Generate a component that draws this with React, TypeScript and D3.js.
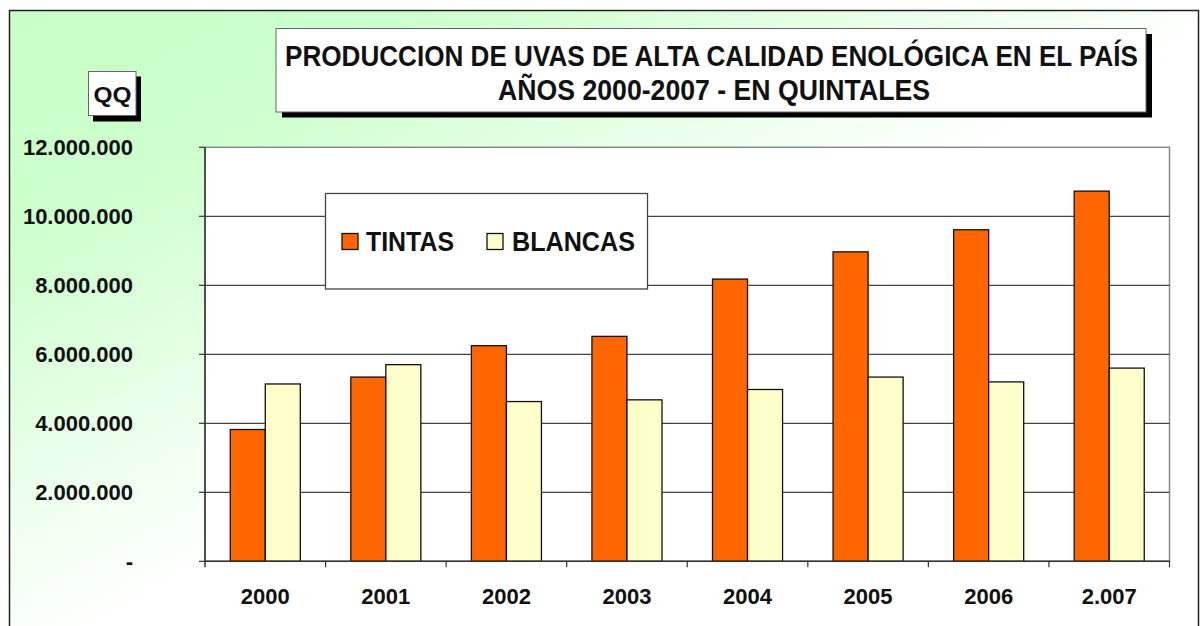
import React from "react";
import * as d3 from "d3";

const years = ["2000", "2001", "2002", "2003", "2004", "2005", "2006", "2.007"];
const seriesNames = ["TINTAS", "BLANCAS"];
const tintas = [3820000, 5340000, 6250000, 6520000, 8180000, 8970000, 9610000, 10730000];
const blancas = [5140000, 5700000, 4630000, 4680000, 4980000, 5340000, 5200000, 5600000];
const yTicks = [0, 2000000, 4000000, 6000000, 8000000, 10000000, 12000000];
const titleLines = ["PRODUCCION DE UVAS DE ALTA CALIDAD ENOLÓGICA EN EL PAÍS", "AÑOS 2000-2007 - EN QUINTALES"];
const colors = ["#FF6600", "#FFFFCC"];

const W = 1204;
const H = 626;
const plot = { left: 205, right: 1169.5, top: 147.3, bottom: 561.3 };
const FONT = "'Liberation Sans', Arial, sans-serif";

function fmt(v: number): string {
  if (v === 0) return "-";
  return d3.format(",")(v).replace(/,/g, ".");
}

export default function App() {
  const y = d3.scaleLinear().domain([0, 12000000]).range([plot.bottom, plot.top]);
  const x = d3
    .scaleBand<string>()
    .domain(years)
    .range([plot.left, plot.right])
    .paddingInner(0.419)
    .paddingOuter(0.2095);
  const x1 = d3.scaleBand<string>().domain(seriesNames).range([0, x.bandwidth()]);
  const step = x.step();
  const data = [tintas, blancas];

  return (
    <svg width={W} height={H} style={{ position: "absolute", left: 0, top: 0 }}>
      <defs>
        <linearGradient id="bg" x1="0" y1="0" x2="1" y2="1">
          <stop offset="0" stopColor="#C8FFC8" />
          <stop offset="0.17" stopColor="#CCFFCC" />
          <stop offset="0.52" stopColor="#FFFFFF" />
          <stop offset="1" stopColor="#FFFFFF" />
        </linearGradient>
      </defs>
      <rect x={0} y={0} width={W} height={H} fill="#fff" />
      <rect x={9.5} y={10.5} width={1189} height={640} fill="url(#bg)" stroke="#222" strokeWidth={1.5} />

      {/* Plot area */}
      <rect
        x={plot.left}
        y={plot.top}
        width={plot.right - plot.left}
        height={plot.bottom - plot.top}
        fill="#fff"
        stroke="#888"
        strokeWidth={1.5}
      />
      {/* gridlines */}
      {yTicks
        .filter((t) => t > 0 && t < 12000000)
        .map((t) => (
          <line key={"g" + t} x1={plot.left} x2={plot.right} y1={y(t)} y2={y(t)} stroke="#444" strokeWidth={1.2} />
        ))}

      {/* bars */}
      {years.map((yr, i) => (
        <g key={yr}>
          {seriesNames.map((s, j) => {
            const v = data[j][i];
            const bx = (x(yr) as number) + (x1(s) as number);
            return (
              <rect
                key={s}
                x={bx}
                y={y(v)}
                width={x1.bandwidth()}
                height={y(0) - y(v)}
                fill={colors[j]}
                stroke="#111"
                strokeWidth={1.3}
              />
            );
          })}
        </g>
      ))}

      {/* y axis */}
      <line x1={plot.left} x2={plot.left} y1={plot.top} y2={plot.bottom + 6} stroke="#333" strokeWidth={1.5} />
      {yTicks.map((t) => (
        <g key={"t" + t}>
          <line x1={plot.left - 6} x2={plot.left} y1={y(t)} y2={y(t)} stroke="#333" strokeWidth={1.2} />
          <text
            x={133}
            y={y(t) + 1.5}
            textAnchor="end"
            dominantBaseline="middle"
            fontFamily={FONT}
            fontWeight="bold"
            fontSize={22}
            fill="#111"
          >
            {fmt(t)}
          </text>
        </g>
      ))}

      {/* x axis */}
      <line x1={plot.left} x2={plot.right} y1={plot.bottom} y2={plot.bottom} stroke="#333" strokeWidth={1.5} />
      {years.map((yr, i) => (
        <line
          key={"xt" + yr}
          x1={plot.left + (i + 1) * step}
          x2={plot.left + (i + 1) * step}
          y1={plot.bottom}
          y2={plot.bottom + 6}
          stroke="#333"
          strokeWidth={1.2}
        />
      ))}
      {years.map((yr) => (
        <text
          key={"xl" + yr}
          x={(x(yr) as number) + x.bandwidth() / 2}
          y={603.5}
          textAnchor="middle"
          fontFamily={FONT}
          fontWeight="bold"
          fontSize={22}
          fill="#111"
        >
          {yr}
        </text>
      ))}

      {/* Legend */}
      <rect x={325.5} y={193.5} width={322} height={95.5} fill="#fff" stroke="#444" strokeWidth={1.3} />
      {seriesNames.map((s, j) => {
        const sx = j === 0 ? 342 : 487;
        const tx = j === 0 ? 366 : 512;
        const tl = j === 0 ? 88 : 123;
        return (
          <g key={"lg" + s}>
            <rect x={sx} y={233.5} width={16} height={16} fill={colors[j]} stroke="#111" strokeWidth={1.3} />
            <text
              x={tx}
              y={251}
              fontFamily={FONT}
              fontWeight="bold"
              fontSize={27.5}
              fill="#111"
              textLength={tl}
              lengthAdjust="spacingAndGlyphs"
            >
              {s}
            </text>
          </g>
        );
      })}

      {/* QQ box */}
      <rect x={93} y={76.5} width={48} height={45} fill="#000" />
      <rect x={88.5} y={71.5} width={47.5} height={44} fill="#fff" stroke="#666" strokeWidth={1} />
      <text
        x={112.5}
        y={102}
        textAnchor="middle"
        fontFamily={FONT}
        fontWeight="bold"
        fontSize={21.5}
        fill="#111"
        textLength={38}
        lengthAdjust="spacingAndGlyphs"
      >
        QQ
      </text>

      {/* Title box */}
      <rect x={282} y={34} width={870} height={83.5} fill="#000" />
      <rect x={276} y={28.5} width={870} height={83.5} fill="#fff" stroke="#666" strokeWidth={1} />
      <text
        x={711.5}
        y={65.5}
        textAnchor="middle"
        fontFamily={FONT}
        fontWeight="bold"
        fontSize={29}
        fill="#111"
        textLength={853}
        lengthAdjust="spacingAndGlyphs"
      >
        {titleLines[0]}
      </text>
      <text
        x={714}
        y={100}
        textAnchor="middle"
        fontFamily={FONT}
        fontWeight="bold"
        fontSize={29}
        fill="#111"
        textLength={432}
        lengthAdjust="spacingAndGlyphs"
      >
        {titleLines[1]}
      </text>
    </svg>
  );
}
